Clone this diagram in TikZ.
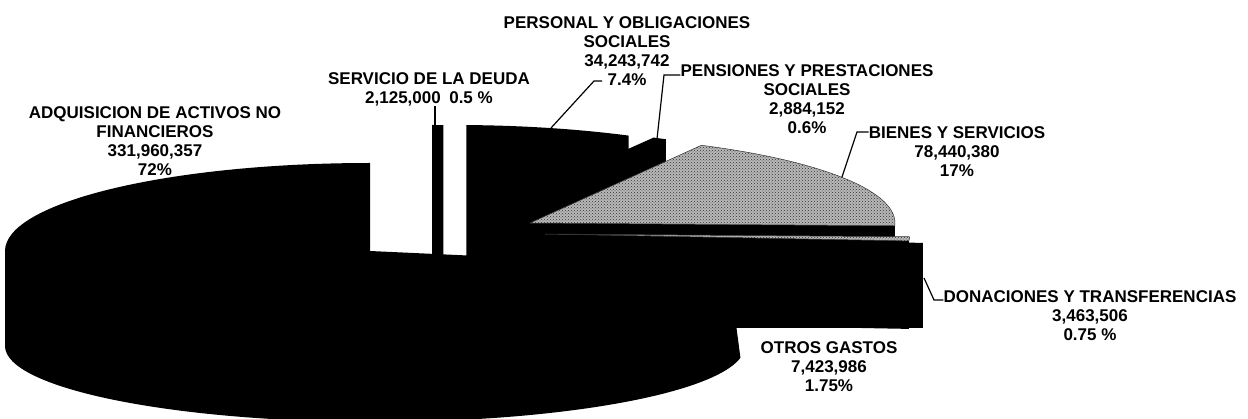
\documentclass[tikz,border=0pt]{standalone}
\usepackage{fontspec}
\setmainfont{Liberation Sans}
\usetikzlibrary{patterns}

\begin{document}
\begin{tikzpicture}[x=1pt,y=1pt,
  top/.style={x radius=365,y radius=88},
  slab/.style={fill=black},
  dots/.style={preaction={fill=black!28},pattern=crosshatch dots,pattern color=black!80,draw=black!80,line width=0.5pt},
  lbl/.style={font=\fontsize{17}{19}\selectfont\bfseries,align=center,inner sep=0pt,anchor=north},
  leader/.style={draw,line width=1.2pt}]
  \useasboundingbox (0,0) rectangle (1248,-419);
  % slices, back to front
  \begin{scope}[shift={(480,-215)}]% pensiones
    \fill[slab] (0,0) -- (61.6:365 and 88) arc[top,start angle=61.6,end angle=59.4] -- ++(0,-95) -- (0,-95) -- cycle;
  \end{scope}
  \begin{scope}[shift={(455,-213)}]% personal
    \fill[slab] (88.2:365 and 88) arc[top,start angle=88.2,end angle=61.6] -- ++(0,-95) -- (11.5,-95) -- cycle;
  \end{scope}
  \begin{scope}[shift={(432,-213)}]% servicio
    \fill[slab] (0,0) -- (90:365 and 88) arc[top,start angle=90,end angle=88.2] -- ++(0,-128) -- (0,-128) -- cycle;
  \end{scope}
  \begin{scope}[shift={(370,-251)}]% adquisicion
    \fill[slab] (0,0) -- (90:365 and 88) arc[top,start angle=90,end angle=180] -- ++(0,-95)
      arc[start angle=180,end angle=351,x radius=370,y radius=76] -- (349.2:365 and 88) -- cycle;
  \end{scope}
  \begin{scope}[shift={(530,-223)}]% bienes
    \fill[slab] (0,0) -- (-1.8:365 and 88) -- ++(0,-95) -- (0,-95) -- cycle;
    \filldraw[dots] (0,0) -- (62:365 and 88) arc[top,start angle=62,end angle=-1.8] -- cycle;
  \end{scope}
  \begin{scope}[shift={(545,-234)}]% donaciones
    \fill[slab] (0,0) -- (-4.5:365 and 88) -- ++(0,-88) -- (0,-88) -- cycle;
    \filldraw[dots] (0,0) -- (-1.8:365 and 88) arc[top,start angle=-1.8,end angle=-4.5] -- cycle;
  \end{scope}
  \begin{scope}[shift={(559,-236)}]% otros
    \fill[slab] (0,0) -- (-4.5:365 and 88) -- (363.9,-92) -- (0,-92) -- cycle;
  \end{scope}
  % labels
  \node[lbl] (adq) at (155,-106) {ADQUISICION DE ACTIVOS NO\\FINANCIEROS\\331,960,357\\72\%};
  \node[lbl] (serv) at (429,-72) {SERVICIO DE LA DEUDA\\2,125,000\enspace 0.5 \%};
  \node[lbl] (pers) at (627,-16) {PERSONAL Y OBLIGACIONES\\SOCIALES\\34,243,742\\7.4\%};
  \node[lbl] (pens) at (807,-64) {PENSIONES Y PRESTACIONES\\SOCIALES\\2,884,152\\0.6\%};
  \node[lbl] (bien) at (957,-126) {BIENES Y SERVICIOS\\78,440,380\\17\%};
  \node[lbl] (dona) at (1090,-290) {DONACIONES Y TRANSFERENCIAS\\3,463,506\\0.75 \%};
  \node[lbl] (otros) at (829,-341) {OTROS GASTOS\\7,423,986\\1.75\%};
  % leaders
  \coordinate (servtip) at (435,-125);
  \coordinate (perstip) at (551,-128);
  \coordinate (perselbow) at (594,-81);
  \coordinate (penstip) at (657,-139);
  \coordinate (penselbow) at (664,-75);
  \coordinate (bientip) at (842,-177);
  \coordinate (bienelbow) at (857,-132);
  \coordinate (donatip) at (924,-278);
  \coordinate (donaelbow) at (934,-300);
  \draw[leader] (servtip) -- (servtip |- serv.south);
  \draw[leader] (perstip) -- (perselbow) -- ++(8,0);
  \draw[leader] (penstip) -- (penselbow) -- (penselbow -| pens.west);
  \draw[leader] (bientip) -- (bienelbow) -- (bienelbow -| bien.west);
  \draw[leader] (donatip) -- (donaelbow) -- (donaelbow -| dona.west);
\end{tikzpicture}
\end{document}
